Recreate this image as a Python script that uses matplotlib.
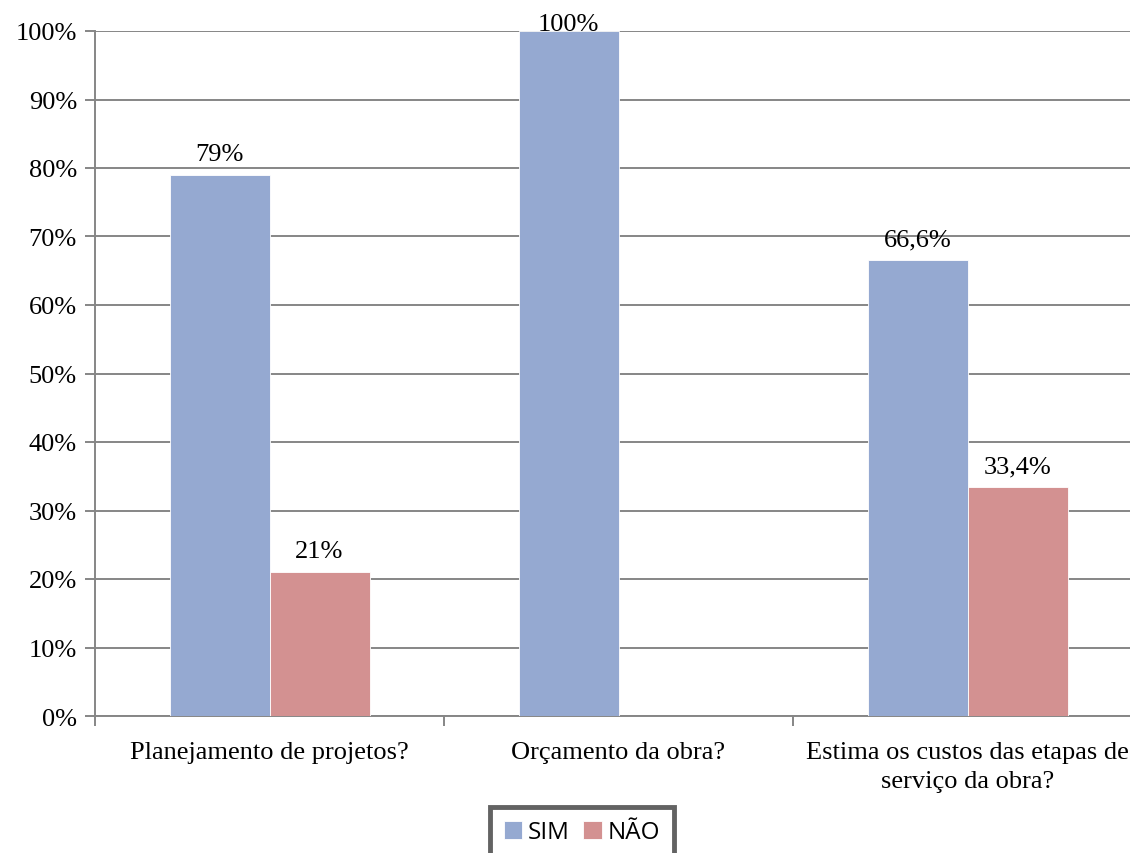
import numpy as np
import matplotlib.pyplot as plt

categories = ["Planejamento de projetos?", "Orçamento da obra?",
              "Estima os custos das etapas de\nserviço da obra?"]
sim_values = [79, 100, 66.6]
nao_values = [21, 0, 33.4]
sim_labels = ["79%", "100%", "66,6%"]
nao_labels = ["21%", "", "33,4%"]
series_names = ["SIM", "NÃO"]

SIM_COLOR = "#95A9D1"
NAO_COLOR = "#D39191"
GRID_COLOR = "#868686"

fig = plt.figure(figsize=(11.3, 8.54), dpi=100)
# axes runs slightly past the right edge, like the original
ax = fig.add_axes([95 / 1130, 1 - 717 / 854, 1047 / 1130, 685 / 854])

x = np.arange(len(categories))
width = 100 / 349

bars_sim = ax.bar(x - width / 2, sim_values, width, color=SIM_COLOR,
                  edgecolor="white", linewidth=0.6, zorder=3, label=series_names[0])
bars_nao = ax.bar(x + width / 2, nao_values, width, color=NAO_COLOR,
                  edgecolor="white", linewidth=0.6, zorder=3, label=series_names[1])

serif = "Liberation Serif"
FS = 19


def label_bars(bars, labels):
    for bar, lab in zip(bars, labels):
        if not lab:
            continue
        h = bar.get_height()
        # labels at the top of the plot are pushed down to stay inside
        off = 7 if h < 95 else -3
        ax.annotate(lab, (bar.get_x() + bar.get_width() / 2, h),
                    xytext=(0, off), textcoords="offset points", ha="center",
                    va="bottom", fontsize=FS, family=serif, zorder=4,
                    annotation_clip=False)


label_bars(bars_sim, sim_labels)
label_bars(bars_nao, nao_labels)

ax.set_xlim(-0.5, len(categories) - 0.5)
ax.set_ylim(0, 100)
ax.set_yticks(np.arange(0, 101, 10))
ax.set_yticklabels([f"{v}%" for v in range(0, 101, 10)], family=serif, fontsize=FS)
ax.yaxis.grid(True, color=GRID_COLOR, linewidth=1.4, zorder=0)
ax.set_axisbelow(True)

# category labels between the boundary ticks
ax.set_xticks(x)
ax.set_xticklabels(categories, family=serif, fontsize=FS, linespacing=1.4)
ax.tick_params(axis="x", length=0, pad=18)
ax.set_xticks(np.arange(-0.5, len(categories), 1), minor=True)
ax.tick_params(axis="x", which="minor", length=7, color=GRID_COLOR, width=1.4, direction="out")
ax.tick_params(axis="y", length=7, color=GRID_COLOR, width=1.4, pad=6)

for side in ["top", "right"]:
    ax.spines[side].set_visible(False)
for side in ["left", "bottom"]:
    ax.spines[side].set_color(GRID_COLOR)
    ax.spines[side].set_linewidth(1.4)

# legend box at bottom, cut by the image edge
leg = fig.legend(handles=[bars_sim, bars_nao], labels=series_names,
                 loc="upper center", bbox_to_anchor=(582 / 1130, 1 - 808 / 854),
                 ncol=2, frameon=True, fancybox=False, handlelength=0.75,
                 handleheight=0.75, handletextpad=0.25, columnspacing=0.55,
                 prop={"family": "Open Sans", "size": 17.5}, borderpad=0.55,
                 borderaxespad=0)
leg.get_frame().set_edgecolor("#3c3c3c")
leg.get_frame().set_linewidth(3.5)

fig.savefig("out.png", dpi=100)
